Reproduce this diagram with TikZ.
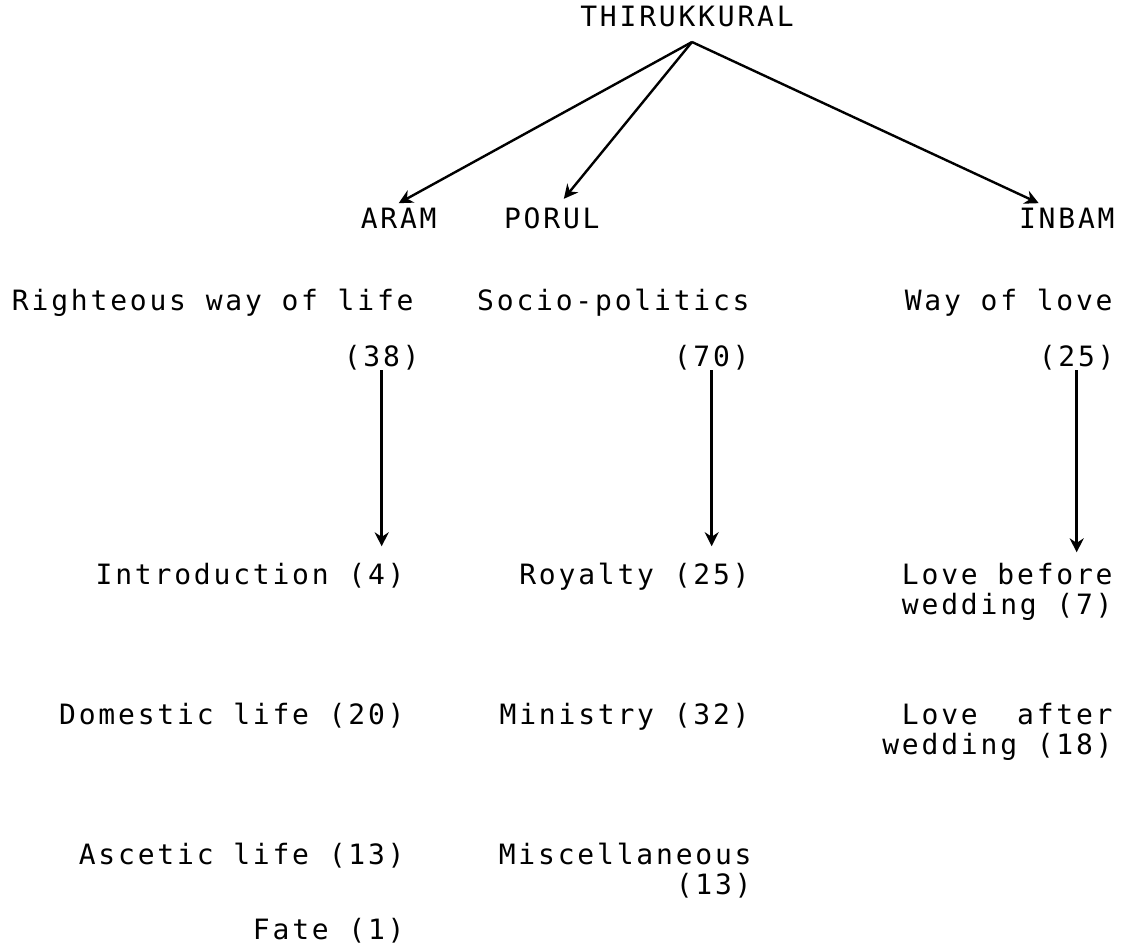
\documentclass[tikz,border=0pt]{standalone}
\usepackage{fontspec}
\usepackage{tikz}
\usetikzlibrary{arrows.meta}
\newfontfamily\tw{DejaVu Sans Mono}[LetterSpace=10]

\begin{document}
\begin{tikzpicture}[x=0.5pt, y=-0.5pt, lbl/.style = {inner sep=0pt, anchor=base east, align=right, font=\tw\fontsize{14}{15}\selectfont}, arr/.style = {line width=1.2pt, -{Stealth[length=7pt,width=7pt]}}]
\useasboundingbox (0,0) rectangle (1121,947);
\node[lbl, anchor=base] (k) at (687,27) {THIRUKKURAL};
\coordinate (top) at (692,42);
\node[lbl] (aram) at (437,228) {ARAM};
\node[lbl] (porul) at (600,228) {PORUL};
\node[lbl] (inbam) at (1115,228) {INBAM};
% second row
\node[lbl] (a1) at (414,311) {Righteous way of life};
\node[lbl] (p1) at (750,311) {Socio-politics};
\node[lbl] (i1) at (1113,311) {Way of love};
\node[lbl] (a2) at (420,366) {(38)};
\node[lbl] (p2) at (750,366) {(70)};
\node[lbl] (i2) at (1115,366) {(25)};
% chapters (two-line labels sit on the last baseline)
\node[lbl] (a3) at (405,584) {Introduction (4)};
\node[lbl] (a4) at (405,724) {Domestic life (20)};
\node[lbl] (a5) at (405,864) {Ascetic life (13)};
\node[lbl] (a6) at (405,939) {Fate (1)};
\node[lbl] (p3) at (750,584) {Royalty (25)};
\node[lbl] (p4) at (750,724) {Ministry (32)};
\node[lbl] (p5) at (752,894) {Miscellaneous\\(13)};
\node[lbl] (i3) at (1113,614) {Love before\\wedding (7)};
\node[lbl] (i4) at (1113,754) {Love\ \ after\\wedding (18)};
\draw[arr] (top) -- ([yshift=2pt]aram.north);
\draw[arr] (top) -- ([xshift=6pt,yshift=4pt]porul.north);
\draw[arr] (top) -- ([xshift=10pt,yshift=2pt]inbam.north west);
\draw[arr, shorten >=8pt] (a2.south) -- (a2.south |- a3.north);
\draw[arr, shorten >=8pt] (p2.south) -- (p2.south |- p3.north);
\draw[arr, shorten >=5pt] (i2.south) -- (i2.south |- i3.north);
\end{tikzpicture}
\end{document}
